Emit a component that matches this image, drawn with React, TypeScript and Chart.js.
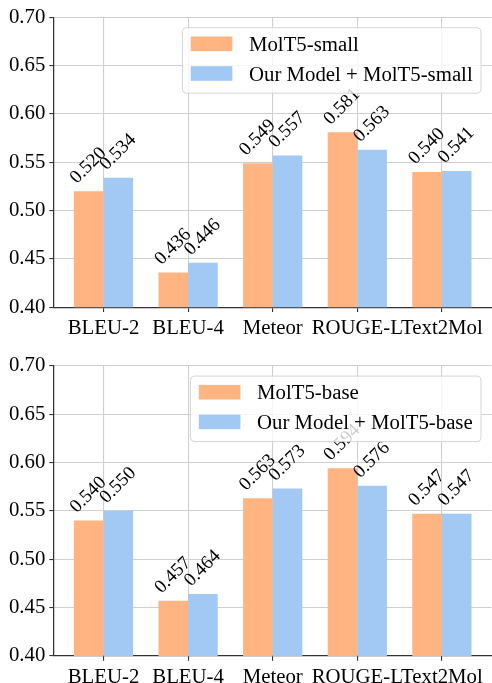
import React, { useEffect, useRef } from 'react';
import { Chart, registerables } from 'chart.js';

Chart.register(...registerables);

const categories = ['BLEU-2', 'BLEU-4', 'Meteor', 'ROUGE-L', 'Text2Mol'];
const smallBaseline = [0.52, 0.436, 0.549, 0.581, 0.54];
const smallOurs = [0.534, 0.446, 0.557, 0.563, 0.541];
const baseBaseline = [0.54, 0.457, 0.563, 0.594, 0.547];
const baseOurs = [0.55, 0.464, 0.573, 0.576, 0.547];
const yTicks = [0.4, 0.45, 0.5, 0.55, 0.6, 0.65, 0.7];
const namesSmall = ['MolT5-small', 'Our Model + MolT5-small'];
const namesBase = ['MolT5-base', 'Our Model + MolT5-base'];
const seriesColors = ['#ffb482', '#a1c9f4'];

const FONT = '"Liberation Serif", "Times New Roman", serif';
const TICK_PX = 20.8;
const VAL_PX = 19;
const DARK = '#333333';
const GRID = '#cfcfcf';

const valueLabelPlugin = {
  id: 'valueLabels',
  afterDatasetsDraw(chart: any) {
    const ctx = chart.ctx;
    ctx.save();
    ctx.font = `${VAL_PX}px ${FONT}`;
    ctx.fillStyle = '#000';
    ctx.textBaseline = 'alphabetic';
    ctx.textAlign = 'left';
    const c = Math.SQRT1_2;
    chart.data.datasets.forEach((ds: any, di: number) => {
      const meta = chart.getDatasetMeta(di);
      meta.data.forEach((el: any, i: number) => {
        const v = ds.data[i].y as number;
        const txt = v.toFixed(3);
        const w = ctx.measureText(txt).width;
        const a = 0.7 * VAL_PX;
        const d = 0.22 * VAL_PX;
        const x = el.x;
        const y = el.y - 4;
        const ox = x - (c * (w + d - a)) / 2;
        const oy = y - c * d;
        ctx.save();
        ctx.translate(ox, oy);
        ctx.rotate(-Math.PI / 4);
        ctx.fillText(txt, 0, 0);
        ctx.restore();
      });
    });
    ctx.restore();
  },
};

const legendPlugin = {
  id: 'mplLegend',
  afterDraw(chart: any) {
    const opts = chart.options.plugins.mplLegend;
    if (!opts) return;
    const ctx = chart.ctx;
    const area = chart.chartArea;
    const em = TICK_PX;
    ctx.save();
    ctx.font = `${em}px ${FONT}`;
    const names: string[] = opts.names;
    const tw = Math.max(...names.map((n) => ctx.measureText(n).width));
    const pad = 0.4 * em;
    const hl = 2 * em;
    const htp = 0.8 * em;
    const width = pad + hl + htp + tw + pad;
    const right = area.right - 0.5 * em;
    const top = area.top + 0.5 * em;
    const left = right - width;
    const height = 65.5;
    ctx.beginPath();
    ctx.roundRect(left, top, width, height, 4);
    ctx.fillStyle = 'rgba(255,255,255,0.8)';
    ctx.fill();
    ctx.strokeStyle = '#d6d6d6';
    ctx.lineWidth = 1;
    ctx.stroke();
    const rows = [top + 16.1, top + 45.8];
    names.forEach((n, i) => {
      ctx.fillStyle = opts.colors[i];
      ctx.fillRect(left + pad, rows[i] - 7.3, hl, 14.6);
      ctx.fillStyle = '#000';
      ctx.textBaseline = 'alphabetic';
      ctx.textAlign = 'left';
      ctx.fillText(n, left + pad + hl + htp, rows[i] + 7);
    });
    ctx.restore();
  },
};

type PanelProps = {
  top: number;
  height: number;
  padTop: number;
  xAxisH: number;
  base: number[];
  ours: number[];
  names: string[];
};

function Panel({ top, height, padTop, xAxisH, base, ours, names }: PanelProps) {
  const ref = useRef<HTMLCanvasElement | null>(null);
  useEffect(() => {
    if (!ref.current) return;
    const mk = (vals: number[]) => vals.map((v, i) => ({ x: i, y: v }));
    const chart = new Chart(ref.current, {
      type: 'bar',
      data: {
        datasets: [
          {
            label: names[0],
            data: mk(base),
            backgroundColor: seriesColors[0],
            borderWidth: 0,
            categoryPercentage: 0.7,
            barPercentage: 1,
          },
          {
            label: names[1],
            data: mk(ours),
            backgroundColor: seriesColors[1],
            borderWidth: 0,
            categoryPercentage: 0.7,
            barPercentage: 1,
          },
        ],
      } as any,
      options: {
        responsive: false,
        animation: false,
        devicePixelRatio: 1,
        layout: { padding: { top: padTop, left: 0, right: 0.6, bottom: 0 } },
        plugins: {
          legend: { display: false },
          tooltip: { enabled: false },
          mplLegend: { names, colors: seriesColors },
        } as any,
        scales: {
          x: {
            type: 'linear',
            min: -0.585,
            max: 4.585,
            offset: false,
            afterBuildTicks: (s: any) => {
              s.ticks = categories.map((_, i) => ({ value: i }));
            },
            afterFit: (s: any) => {
              s.height = xAxisH;
            },
            ticks: {
              callback: (v: any) => categories[Math.round(Number(v))] ?? '',
              font: { family: FONT, size: TICK_PX },
              color: '#000',
              padding: 4,
              autoSkip: false,
              maxRotation: 0,
              minRotation: 0,
            },
            grid: {
              offset: false,
              color: GRID,
              lineWidth: 1.1,
              tickLength: 4.7,
              tickColor: DARK,
              tickWidth: 1.1,
            },
            border: { display: true, color: DARK, width: 1.25 },
          },
          y: {
            min: 0.4,
            max: 0.7,
            afterBuildTicks: (s: any) => {
              s.ticks = yTicks.map((v) => ({ value: v }));
            },
            afterFit: (s: any) => {
              s.width = 54;
            },
            ticks: {
              callback: (v: any) => Number(v).toFixed(2),
              font: { family: FONT, size: TICK_PX },
              color: '#000',
              padding: 4,
            },
            grid: {
              color: GRID,
              lineWidth: 1.1,
              tickLength: 4.7,
              tickColor: DARK,
              tickWidth: 1.1,
            },
            border: { display: true, color: DARK, width: 1.25 },
          },
        } as any,
      },
      plugins: [valueLabelPlugin, legendPlugin],
    });
    return () => chart.destroy();
  }, []);
  return (
    <canvas
      ref={ref}
      width={492}
      height={height}
      style={{ position: 'absolute', left: 0, top, width: 492, height }}
    />
  );
}

export default function App() {
  return (
    <div
      style={{
        position: 'absolute',
        left: 0,
        top: 0,
        width: 492,
        height: 683,
        overflow: 'hidden',
        background: '#fff',
      }}
    >
      <Panel top={0} height={340} padTop={17.3} xAxisH={32.7} base={smallBaseline} ours={smallOurs} names={namesSmall} />
      <Panel top={340} height={343} padTop={25.7} xAxisH={27} base={baseBaseline} ours={baseOurs} names={namesBase} />
    </div>
  );
}
